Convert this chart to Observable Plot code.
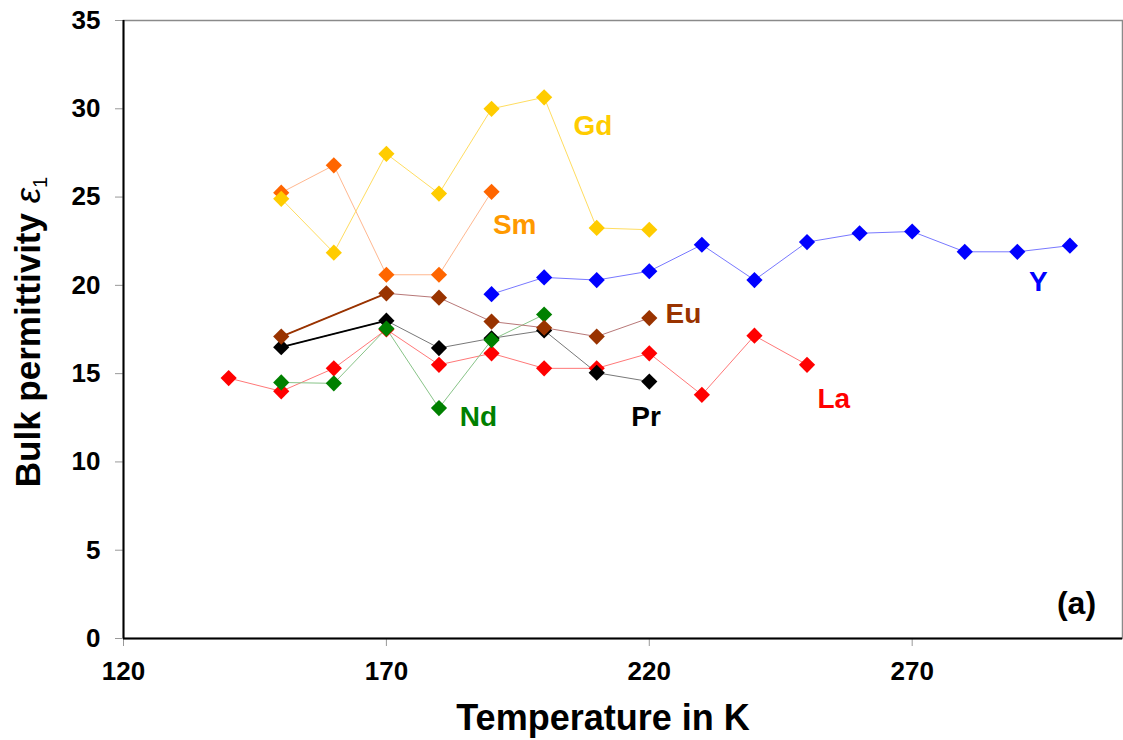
<!DOCTYPE html>
<html>
<head>
<meta charset="utf-8">
<script src="https://cdn.jsdelivr.net/npm/d3@7"></script>
<script src="https://cdn.jsdelivr.net/npm/@observablehq/plot@0.6"></script>
<style>
  html, body { margin: 0; padding: 0; background: #fff; overflow: hidden; }
</style>
</head>
<body>
<div id="chart"></div>
<script>
// ---- data ----
const seriesNames = ["La", "Pr", "Nd", "Eu", "Y", "Sm", "Gd"];

const T_La = [140, 150, 160, 170, 180, 190, 200, 210, 220, 230, 240, 250];
const La   = [14.75, 14.0, 15.3, 17.5, 15.5, 16.15, 15.3, 15.3, 16.15, 13.8, 17.15, 15.5];

const T_Pr = [150, 170, 180, 190, 200, 210, 220];
const Pr   = [16.5, 18.0, 16.45, 17.0, 17.45, 15.05, 14.55];

const T_Nd = [150, 160, 170, 180, 190, 200];
const Nd   = [14.5, 14.45, 17.55, 13.05, 16.9, 18.35];

const T_Eu = [150, 170, 180, 190, 200, 210, 220];
const Eu   = [17.1, 19.55, 19.3, 17.95, 17.6, 17.1, 18.15];

const T_Y  = [190, 200, 210, 220, 230, 240, 250, 260, 270, 280, 290, 300];
const Yv   = [19.5, 20.45, 20.3, 20.8, 22.3, 20.3, 22.45, 22.95, 23.05, 21.9, 21.9, 22.25];

const T_Sm = [150, 160, 170, 180, 190];
const Sm   = [25.25, 26.8, 20.6, 20.6, 25.3];

const T_Gd = [150, 160, 170, 180, 190, 200, 210, 220];
const Gd   = [24.9, 21.85, 27.45, 25.2, 30.0, 30.65, 23.25, 23.15];

const xTicks = [120, 170, 220, 270];
const yTicks = [0, 5, 10, 15, 20, 25, 30, 35];

// series labels placed in data units
const labelText = ["Gd", "Sm", "Eu", "Y", "La", "Pr", "Nd"];
const labelX    = [209.3, 194.4, 226.5, 294.0, 255.1, 219.4, 187.5];
const labelY    = [29.0, 23.4, 18.35, 20.2, 13.55, 12.55, 12.55];
const panelText = ["(a)"];
const panelX = [301.25];
const panelY = [1.95];

// ---- styles ----
const markerColor = {La: "#FF0000", Pr: "#000000", Nd: "#008000", Eu: "#993300", Y: "#0000FF", Sm: "#FF6600", Gd: "#FFCC00"};
const lineColor   = {La: "#FF7878", Pr: "#787878", Nd: "#88C488", Eu: "#B87878", Y: "#7878FF", Sm: "#FFB890", Gd: "#FFDD60"};
const labelColor  = {La: "#FF0000", Pr: "#000000", Nd: "#008000", Eu: "#993300", Y: "#0000FF", Sm: "#FF9900", Gd: "#FFCC00"};

const seriesData = {La: [T_La, La], Pr: [T_Pr, Pr], Nd: [T_Nd, Nd], Eu: [T_Eu, Eu], Y: [T_Y, Yv], Sm: [T_Sm, Sm], Gd: [T_Gd, Gd]};
const rows = seriesNames.flatMap(s => seriesData[s][0].map((t, i) => ({s, t, v: seriesData[s][1][i]})));
const labels = labelText.map((name, i) => ({name, x: labelX[i], y: labelY[i]}));
const panel = panelText.map((name, i) => ({name, x: panelX[i], y: panelY[i]}));

// first (darker, thicker) segments of Eu and Pr
const boldSeg = rows.filter(d => (d.s === "Eu" || d.s === "Pr") && d.t <= 170);

const FONT = "'Liberation Sans', Arial, Helvetica, sans-serif";

const chart = Plot.plot({
  width: 1123,
  height: 740,
  marginLeft: 123,
  marginRight: 1,
  marginTop: 20,
  marginBottom: 102,
  style: {fontFamily: FONT, fontWeight: "bold", background: "#fff", overflow: "visible"},
  x: {domain: [120, 310]},
  y: {domain: [0, 35]},
  marks: [
    Plot.frame({stroke: "#8a8a8a", strokeWidth: 1.5}),
    Plot.tickX(xTicks, {x: d => d, frameAnchor: "bottom", y: null, stroke: "#999", insetTop: 0}),
    Plot.axisX({ticks: xTicks, tickSize: 8, stroke: "#999", tickFormat: () => "", label: null}),
    Plot.axisY({ticks: yTicks, tickSize: 8, stroke: "#999", tickFormat: () => "", label: null}),
    Plot.text(xTicks, {x: d => d, frameAnchor: "bottom", dy: 23, lineAnchor: "top", textAnchor: "middle", fontSize: 26, fontWeight: "bold", fill: "#000", text: d => String(d)}),
    Plot.text(yTicks, {y: d => d, frameAnchor: "left", dx: -23, lineAnchor: "middle", textAnchor: "end", fontSize: 26, fontWeight: "bold", fill: "#000", text: d => String(d)}),
    Plot.ruleX([120], {stroke: "#000", strokeWidth: 2}),
    Plot.ruleY([0], {stroke: "#000", strokeWidth: 2}),
    Plot.line(rows, {x: "t", y: "v", z: "s", stroke: d => lineColor[d.s], strokeWidth: 1}),
    Plot.line(boldSeg, {x: "t", y: "v", z: "s", stroke: d => markerColor[d.s], strokeWidth: 1.8}),
    Plot.dot(rows, {x: "t", y: "v", symbol: "diamond2", r: 7.3, fill: d => markerColor[d.s], stroke: null}),
    Plot.text(labels, {x: "x", y: "y", text: "name", fill: d => labelColor[d.name], fontSize: 28, fontWeight: "bold", textAnchor: "middle", lineAnchor: "middle"}),
    Plot.text(panel, {x: "x", y: "y", text: "name", fill: "#000", fontSize: 32, fontWeight: "bold", textAnchor: "middle", lineAnchor: "middle"}),
    Plot.text(["Temperature in K"], {frameAnchor: "bottom", dy: 80, dx: -20, fill: "#000", fontSize: 36, fontWeight: "bold", lineAnchor: "middle"})
  ].filter((m, i) => i !== 1)
});

// y-axis title with italic epsilon and subscript
const yScale = chart.scale("y");
const yMid = (yScale.range[0] + yScale.range[1]) / 2;
const yt = d3.select(chart).append("text")
  .attr("transform", `translate(40, ${yMid + 3}) rotate(-90)`)
  .attr("text-anchor", "middle")
  .attr("font-family", FONT)
  .attr("font-size", 35)
  .attr("font-weight", "bold")
  .attr("fill", "#000");
yt.append("tspan").text("Bulk permittivity ");
yt.append("tspan").attr("font-style", "italic").attr("font-weight", "normal").text("ε");
yt.append("tspan").attr("font-size", 20).attr("font-weight", "normal").attr("dy", 7).text("1");

document.getElementById("chart").appendChild(chart);
</script>
</body>
</html>
